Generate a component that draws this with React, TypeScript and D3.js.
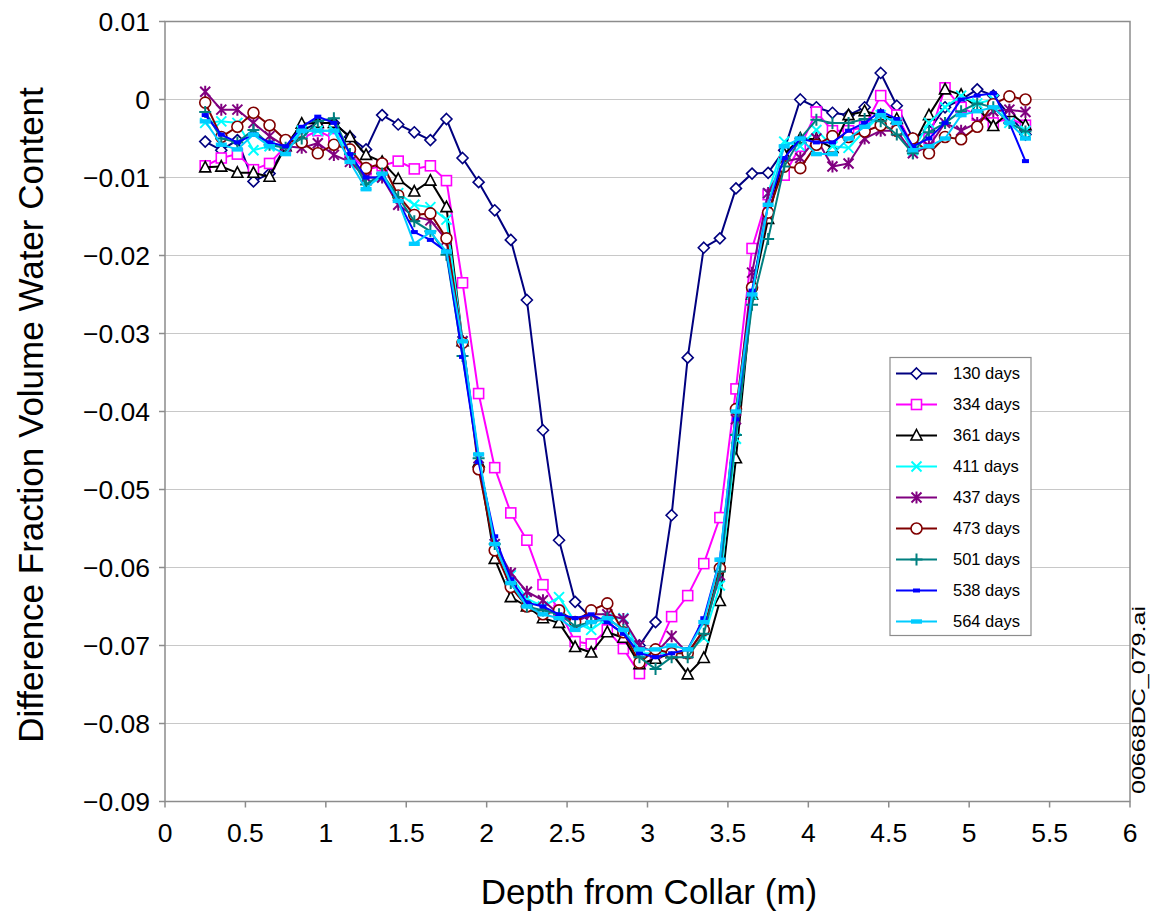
import React from "react";
import * as d3 from "d3";

const depths: number[] = d3.range(52).map((i) => +(0.25 + i * 0.1).toFixed(2));

const d130 = [-0.0054,-0.0065,-0.0052,-0.0105,-0.0095,-0.006,-0.004,-0.003,-0.003,-0.0048,-0.0064,-0.002,-0.0032,-0.0042,-0.0052,-0.0025,-0.0075,-0.0106,-0.0142,-0.018,-0.0257,-0.0424,-0.0565,-0.0644,-0.0665,-0.067,-0.0685,-0.070,-0.067,-0.0533,-0.0331,-0.019,-0.0178,-0.0114,-0.0095,-0.0094,-0.0065,0.0,-0.001,-0.0017,-0.002,-0.001,0.0034,-0.0008,-0.005,-0.004,-0.001,0.0,0.0013,0.0005,-0.002,-0.0045];
const d334 = [-0.0085,-0.0075,-0.007,-0.009,-0.0082,-0.006,-0.005,-0.004,-0.005,-0.007,-0.009,-0.0085,-0.0079,-0.0089,-0.0085,-0.0104,-0.0235,-0.0377,-0.0472,-0.053,-0.0565,-0.0622,-0.0655,-0.0695,-0.0698,-0.068,-0.0704,-0.0736,-0.071,-0.0663,-0.0636,-0.0595,-0.0536,-0.0371,-0.0191,-0.0122,-0.0097,-0.006,-0.0016,-0.004,-0.004,-0.0035,0.0005,-0.002,-0.006,-0.005,0.0015,-0.001,-0.002,-0.003,-0.0024,-0.0033];
const d361 = [-0.0087,-0.0086,-0.0094,-0.0094,-0.0099,-0.006,-0.0031,-0.003,-0.003,-0.0048,-0.0071,-0.008,-0.0102,-0.0118,-0.0104,-0.0138,-0.031,-0.0465,-0.0589,-0.0638,-0.065,-0.0665,-0.0671,-0.0702,-0.0709,-0.0683,-0.069,-0.0724,-0.0717,-0.071,-0.0737,-0.0716,-0.0643,-0.046,-0.025,-0.0153,-0.007,-0.005,-0.0051,-0.0062,-0.002,-0.0015,-0.002,-0.0025,-0.006,-0.002,0.0013,0.0006,-0.001,-0.0034,-0.0016,-0.0033];
const d411 = [-0.003,-0.0028,-0.003,-0.0065,-0.006,-0.006,-0.004,-0.004,-0.004,-0.007,-0.011,-0.010,-0.012,-0.0135,-0.0138,-0.0154,-0.031,-0.046,-0.057,-0.061,-0.064,-0.065,-0.0638,-0.067,-0.068,-0.0665,-0.0665,-0.071,-0.071,-0.071,-0.071,-0.069,-0.0623,-0.0435,-0.025,-0.012,-0.0054,-0.006,-0.0039,-0.006,-0.0062,-0.004,-0.002,-0.003,-0.0065,-0.003,-0.001,0.0005,-0.0005,0.0,-0.003,-0.004];
const d437 = [0.001,-0.0013,-0.0013,-0.003,-0.0047,-0.006,-0.0062,-0.0056,-0.0071,-0.008,-0.010,-0.010,-0.0135,-0.015,-0.0155,-0.018,-0.031,-0.046,-0.057,-0.0607,-0.0631,-0.0642,-0.066,-0.067,-0.066,-0.066,-0.0666,-0.070,-0.071,-0.0688,-0.071,-0.068,-0.061,-0.041,-0.0222,-0.012,-0.008,-0.0075,-0.005,-0.0086,-0.0082,-0.005,-0.004,-0.004,-0.0069,-0.006,-0.003,-0.004,-0.003,-0.0015,-0.0013,-0.0016];
const d473 = [-0.0004,-0.0048,-0.0035,-0.0017,-0.0033,-0.0052,-0.0055,-0.0069,-0.0058,-0.0064,-0.0088,-0.0082,-0.0123,-0.0148,-0.0146,-0.0178,-0.0312,-0.0474,-0.0578,-0.0625,-0.065,-0.066,-0.0655,-0.067,-0.0655,-0.0646,-0.0683,-0.0722,-0.0705,-0.071,-0.071,-0.068,-0.0601,-0.0397,-0.0241,-0.0145,-0.0086,-0.0088,-0.0058,-0.0047,-0.0048,-0.0041,-0.0033,-0.004,-0.005,-0.0069,-0.0048,-0.0051,-0.0035,-0.0006,0.0004,0.0];
const d501 = [-0.0016,-0.005,-0.0055,-0.0039,-0.0058,-0.0062,-0.005,-0.0028,-0.0024,-0.007,-0.0109,-0.0095,-0.0125,-0.0156,-0.0169,-0.0199,-0.0329,-0.046,-0.057,-0.062,-0.065,-0.0655,-0.066,-0.0675,-0.067,-0.0665,-0.068,-0.0715,-0.073,-0.0715,-0.0715,-0.0685,-0.0605,-0.043,-0.0263,-0.0179,-0.0086,-0.005,-0.0026,-0.003,-0.003,-0.0025,-0.0028,-0.0045,-0.0069,-0.0042,-0.003,-0.0015,-0.0005,-0.001,-0.003,-0.0041];
const d538 = [-0.002,-0.0045,-0.0055,-0.0045,-0.0055,-0.006,-0.0035,-0.0022,-0.003,-0.007,-0.010,-0.010,-0.013,-0.017,-0.018,-0.0195,-0.033,-0.0465,-0.056,-0.0615,-0.0645,-0.065,-0.066,-0.0665,-0.066,-0.067,-0.0685,-0.071,-0.0715,-0.071,-0.0705,-0.0665,-0.059,-0.041,-0.0245,-0.0135,-0.0075,-0.005,-0.0055,-0.0055,-0.004,-0.003,-0.0015,-0.0025,-0.006,-0.005,-0.003,0.0,0.0005,0.0008,-0.003,-0.0079];
const d564 = [-0.0028,-0.0058,-0.0064,-0.0045,-0.006,-0.007,-0.004,-0.004,-0.004,-0.008,-0.0115,-0.0095,-0.013,-0.0185,-0.017,-0.0195,-0.031,-0.0455,-0.057,-0.062,-0.065,-0.066,-0.0665,-0.068,-0.067,-0.0665,-0.068,-0.0705,-0.0705,-0.070,-0.0705,-0.067,-0.059,-0.040,-0.025,-0.0135,-0.006,-0.005,-0.007,-0.007,-0.005,-0.0035,-0.002,-0.003,-0.0065,-0.006,-0.005,-0.002,-0.0015,-0.001,-0.003,-0.005];

const seriesNames = ["130 days","334 days","361 days","411 days","437 days","473 days","501 days","538 days","564 days"];
const seriesValues = [d130,d334,d361,d411,d437,d473,d501,d538,d564];
const seriesColors = ["#000080","#FF00FF","#000000","#00FFFF","#800080","#800000","#008080","#0000FF","#00CCFF"];
const seriesMarkers = ["diamond","square","triangle","x","star","circle","plus","smalldash","dash"];

const xTicks = [0,0.5,1,1.5,2,2.5,3,3.5,4,4.5,5,5.5,6];
const yTicks = [0.01,0,-0.01,-0.02,-0.03,-0.04,-0.05,-0.06,-0.07,-0.08,-0.09];

const L = 165, R = 1130, T = 21.5, B = 801.5;
const x = d3.scaleLinear().domain([0, 6]).range([L, R]);
const y = d3.scaleLinear().domain([-0.09, 0.01]).range([B, T]);

function fmtY(v: number) {
  if (Math.abs(v) < 1e-9) return "0";
  const s = d3.format(".2f")(Math.abs(v));
  return (v < 0 ? "\u2212" : "") + s;
}

function Marker({ type, cx, cy, color }: { type: string; cx: number; cy: number; color: string }) {
  const sw = 1.6;
  switch (type) {
    case "diamond":
      return <path d={`M${cx},${cy - 5.5}L${cx + 5.5},${cy}L${cx},${cy + 5.5}L${cx - 5.5},${cy}Z`} fill="#fff" stroke={color} strokeWidth={sw} />;
    case "square":
      return <rect x={cx - 5} y={cy - 5} width={10} height={10} fill="#fff" stroke={color} strokeWidth={sw} />;
    case "triangle":
      return <path d={`M${cx},${cy - 6}L${cx + 5.5},${cy + 4.5}L${cx - 5.5},${cy + 4.5}Z`} fill="#fff" stroke={color} strokeWidth={sw} />;
    case "x":
      return <path d={`M${cx - 5},${cy - 5}L${cx + 5},${cy + 5}M${cx - 5},${cy + 5}L${cx + 5},${cy - 5}`} stroke={color} strokeWidth={2} />;
    case "star":
      return <path d={`M${cx - 5},${cy - 5}L${cx + 5},${cy + 5}M${cx - 5},${cy + 5}L${cx + 5},${cy - 5}M${cx},${cy - 6}L${cx},${cy + 6}`} stroke={color} strokeWidth={2} />;
    case "circle":
      return <circle cx={cx} cy={cy} r={5.5} fill="#fff" stroke={color} strokeWidth={sw} />;
    case "plus":
      return <path d={`M${cx - 6},${cy}L${cx + 6},${cy}M${cx},${cy - 6}L${cx},${cy + 6}`} stroke={color} strokeWidth={2} />;
    case "smalldash":
      return <rect x={cx - 3.5} y={cy - 2} width={7} height={4} fill={color} />;
    case "dash":
      return <rect x={cx - 5.5} y={cy - 2.2} width={11} height={4.4} fill={color} />;
    default:
      return null;
  }
}

export default function App() {
  const line = d3.line<number>().x((_, i) => x(depths[i])).y((v) => y(v));
  const font = "'Liberation Sans', Arial, sans-serif";
  const legX = 890, legY = 357.5, legW = 141, legH = 278, rowH = 31;
  return (
    <svg width={1151} height={914} style={{ position: "absolute", left: 0, top: 0 }} fontFamily={font}>
      <rect x={0} y={0} width={1151} height={914} fill="#fff" />
      {yTicks.map((t) => (
        <line key={"g" + t} x1={L} x2={R} y1={y(t)} y2={y(t)} stroke="#c8c8c8" strokeWidth={1.2} />
      ))}
      <rect x={L} y={T} width={R - L} height={B - T} fill="none" stroke="#8c8c8c" strokeWidth={1.5} />
      {yTicks.map((t) => (
        <g key={"yt" + t}>
          <line x1={L - 6} x2={L} y1={y(t)} y2={y(t)} stroke="#8c8c8c" strokeWidth={1.5} />
          <text x={150} y={y(t)} dy="0.35em" textAnchor="end" fontSize={26.5} fill="#000">{fmtY(t)}</text>
        </g>
      ))}
      {xTicks.map((t) => (
        <g key={"xt" + t}>
          <line x1={x(t)} x2={x(t)} y1={B} y2={B + 6} stroke="#8c8c8c" strokeWidth={1.5} />
          <text x={x(t)} y={842} textAnchor="middle" fontSize={26.5} fill="#000">{String(t)}</text>
        </g>
      ))}
      <text x={649} y={904} textAnchor="middle" fontSize={35} fill="#000">Depth from Collar (m)</text>
      <text transform={`translate(43,415) rotate(-90)`} textAnchor="middle" fontSize={35} fill="#000">Difference Fraction Volume Water Content</text>
      <text transform={`translate(1145,700) rotate(-90)`} textAnchor="middle" fontSize={19} textLength={188} lengthAdjust="spacingAndGlyphs" fill="#000">00668DC_079.ai</text>
      {seriesValues.map((vals, si) => (
        <g key={"s" + si}>
          <path d={line(vals) || ""} fill="none" stroke={seriesColors[si]} strokeWidth={2} />
          {vals.map((v, i) => (
            <Marker key={i} type={seriesMarkers[si]} cx={x(depths[i])} cy={y(v)} color={seriesColors[si]} />
          ))}
        </g>
      ))}
      <rect x={legX} y={legY} width={legW} height={legH} fill="#fff" stroke="#8c8c8c" strokeWidth={1.2} />
      {seriesNames.map((n, i) => {
        const cy = legY + 16 + i * rowH;
        return (
          <g key={"l" + i}>
            <line x1={896} x2={937} y1={cy} y2={cy} stroke={seriesColors[i]} strokeWidth={2} />
            <Marker type={seriesMarkers[i]} cx={916.5} cy={cy} color={seriesColors[i]} />
            <text x={953} y={cy} dy="0.35em" fontSize={16.5} fill="#000">{n}</text>
          </g>
        );
      })}
    </svg>
  );
}
